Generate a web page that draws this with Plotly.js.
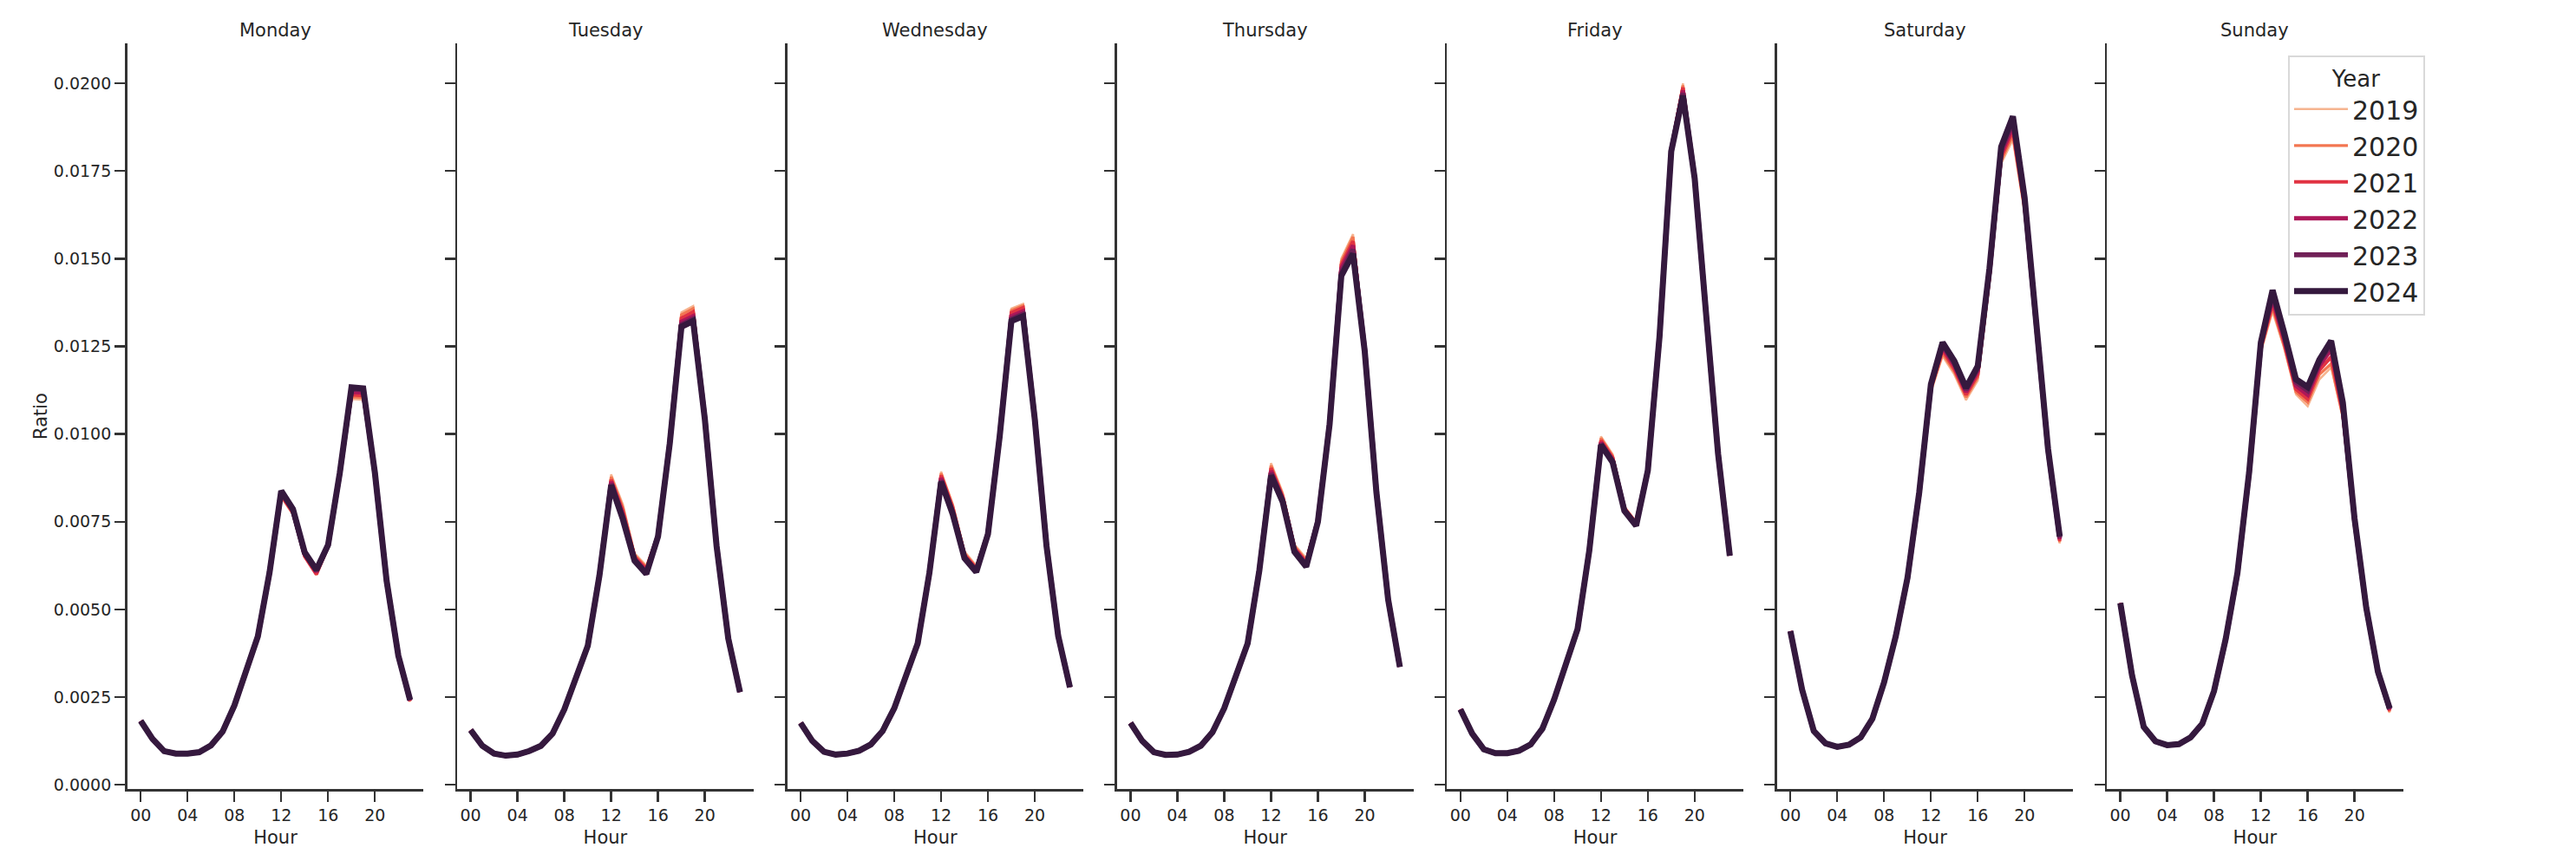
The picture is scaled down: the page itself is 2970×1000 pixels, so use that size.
<!DOCTYPE html>
<html>
<head>
<meta charset="utf-8">
<script src="https://cdn.plot.ly/plotly-3.0.1.min.js"></script>
<style>
  html, body { margin: 0; padding: 0; background: #fff; }
  #chart { width: 2970px; height: 1000px; }
</style>
</head>
<body>
<div id="chart"></div>
<script>
const hours = [0,1,2,3,4,5,6,7,8,9,10,11,12,13,14,15,16,17,18,19,20,21,22,23];
const hourTicks = [0, 4, 8, 12, 16, 20];
const hourLabels = ['00', '04', '08', '12', '16', '20'];
const ratioTicks = [0, 0.0025, 0.005, 0.0075, 0.01, 0.0125, 0.015, 0.0175, 0.02];
const days = ['Monday', 'Tuesday', 'Wednesday', 'Thursday', 'Friday', 'Saturday', 'Sunday'];
const years = ['2019', '2020', '2021', '2022', '2023', '2024'];
const yearColors = ['#f6b48f', '#f37651', '#e13342', '#ad1759', '#701f57', '#35193e'];
const yearWidths = [2.5, 3.3, 4.1, 4.9, 5.8, 7];

// rows: 2019 .. 2024, columns: hour 0 .. 23
const monday = [
  [.00182,.00131,.00096,.00089,.00089,.00093,.00112,.00152,.00226,.00325,.00423,.00600,.00820,.00770,.00655,.00598,.00675,.00880,.01100,.01098,.00880,.00578,.00366,.00236],
  [.00182,.00131,.00096,.00089,.00089,.00093,.00112,.00152,.00226,.00325,.00423,.00602,.00824,.00774,.00650,.00602,.00678,.00884,.01106,.01104,.00884,.00579,.00367,.00238],
  [.00182,.00131,.00096,.00089,.00089,.00093,.00112,.00152,.00226,.00325,.00423,.00603,.00826,.00776,.00652,.00600,.00680,.00885,.01112,.01110,.00885,.00580,.00367,.00239],
  [.00182,.00131,.00096,.00089,.00089,.00093,.00112,.00152,.00226,.00325,.00423,.00604,.00832,.00780,.00658,.00607,.00682,.00887,.01120,.01118,.00887,.00580,.00368,.00240],
  [.00182,.00131,.00096,.00089,.00089,.00093,.00112,.00152,.00226,.00325,.00423,.00605,.00836,.00783,.00660,.00610,.00683,.00888,.01128,.01126,.00888,.00581,.00368,.00241],
  [.00182,.00131,.00096,.00089,.00089,.00093,.00112,.00152,.00226,.00325,.00423,.00605,.00838,.00786,.00663,.00613,.00684,.00889,.01133,.01130,.00889,.00581,.00368,.00242]
];
const tuesday = [
  [.00156,.00111,.00089,.00083,.00086,.00096,.00111,.00146,.00215,.00303,.00398,.00605,.00885,.00799,.00660,.00625,.00718,.00985,.01347,.01365,.01055,.00688,.00420,.00266],
  [.00156,.00111,.00089,.00083,.00086,.00096,.00111,.00146,.00215,.00303,.00398,.00603,.00878,.00790,.00655,.00620,.00715,.00982,.01340,.01358,.01050,.00686,.00419,.00265],
  [.00156,.00111,.00089,.00083,.00086,.00096,.00111,.00146,.00215,.00303,.00397,.00601,.00870,.00780,.00650,.00615,.00713,.00979,.01330,.01348,.01048,.00684,.00418,.00265],
  [.00156,.00111,.00089,.00083,.00086,.00096,.00111,.00146,.00215,.00303,.00397,.00599,.00864,.00770,.00645,.00608,.00711,.00976,.01320,.01336,.01046,.00683,.00418,.00264],
  [.00156,.00111,.00089,.00083,.00086,.00096,.00111,.00146,.00215,.00303,.00396,.00598,.00858,.00762,.00641,.00604,.00709,.00974,.01312,.01328,.01044,.00682,.00417,.00264],
  [.00156,.00111,.00089,.00083,.00086,.00096,.00111,.00146,.00215,.00303,.00396,.00597,.00854,.00757,.00639,.00601,.00708,.00972,.01306,.01322,.01042,.00681,.00417,.00264]
];
const wednesday = [
  [.00176,.00125,.00094,.00086,.00089,.00097,.00115,.00153,.00218,.00308,.00405,.00612,.00893,.00800,.00665,.00625,.00725,.01003,.01358,.01371,.01055,.00688,.00427,.00280],
  [.00176,.00125,.00094,.00086,.00089,.00097,.00115,.00153,.00218,.00308,.00405,.00610,.00888,.00795,.00660,.00620,.00722,.01000,.01352,.01366,.01052,.00686,.00426,.00279],
  [.00176,.00125,.00094,.00086,.00089,.00097,.00115,.00153,.00218,.00308,.00404,.00608,.00882,.00788,.00656,.00617,.00720,.00998,.01346,.01360,.01049,.00685,.00426,.00279],
  [.00176,.00125,.00094,.00086,.00089,.00097,.00115,.00153,.00218,.00308,.00404,.00606,.00875,.00780,.00651,.00612,.00718,.00996,.01336,.01350,.01046,.00683,.00425,.00278],
  [.00176,.00125,.00094,.00086,.00089,.00097,.00115,.00153,.00218,.00308,.00403,.00605,.00868,.00775,.00648,.00609,.00716,.00994,.01328,.01342,.01044,.00682,.00424,.00278],
  [.00176,.00125,.00094,.00086,.00089,.00097,.00115,.00153,.00218,.00308,.00403,.00604,.00864,.00771,.00646,.00607,.00715,.00993,.01322,.01336,.01042,.00681,.00424,.00278]
];
const thursday = [
  [.00176,.00125,.00093,.00085,.00086,.00094,.00111,.00150,.00218,.00306,.00405,.00620,.00917,.00833,.00685,.00646,.00760,.01040,.01500,.01570,.01255,.00840,.00532,.00338],
  [.00176,.00125,.00093,.00085,.00086,.00094,.00111,.00150,.00218,.00306,.00405,.00618,.00910,.00826,.00680,.00640,.00758,.01037,.01492,.01562,.01250,.00838,.00531,.00338],
  [.00176,.00125,.00093,.00085,.00086,.00094,.00111,.00150,.00218,.00306,.00404,.00616,.00903,.00820,.00676,.00635,.00756,.01035,.01482,.01550,.01246,.00837,.00530,.00337],
  [.00176,.00125,.00093,.00085,.00086,.00094,.00111,.00150,.00218,.00306,.00404,.00614,.00895,.00815,.00671,.00630,.00754,.01032,.01472,.01538,.01242,.00835,.00529,.00337],
  [.00176,.00125,.00093,.00085,.00086,.00094,.00111,.00150,.00218,.00306,.00403,.00612,.00888,.00810,.00667,.00626,.00752,.01030,.01460,.01526,.01239,.00834,.00528,.00336],
  [.00176,.00125,.00093,.00085,.00086,.00094,.00111,.00150,.00218,.00306,.00403,.00611,.00882,.00806,.00664,.00622,.00750,.01028,.01451,.01514,.01236,.00833,.00528,.00336]
];
const friday = [
  [.00215,.00146,.00101,.00090,.00090,.00097,.00115,.00160,.00243,.00344,.00446,.00672,.00993,.00942,.00794,.00750,.00900,.01285,.01820,.02000,.01735,.01336,.00945,.00654],
  [.00215,.00146,.00101,.00090,.00090,.00097,.00115,.00160,.00243,.00344,.00446,.00671,.00988,.00937,.00790,.00748,.00899,.01283,.01816,.01994,.01734,.01335,.00945,.00654],
  [.00215,.00146,.00101,.00090,.00090,.00097,.00115,.00160,.00243,.00344,.00445,.00670,.00982,.00932,.00788,.00746,.00898,.01282,.01813,.01988,.01732,.01335,.00944,.00653],
  [.00215,.00146,.00101,.00090,.00090,.00097,.00115,.00160,.00243,.00344,.00445,.00669,.00976,.00926,.00785,.00743,.00897,.01280,.01810,.01980,.01731,.01334,.00944,.00653],
  [.00215,.00146,.00101,.00090,.00090,.00097,.00115,.00160,.00243,.00344,.00444,.00668,.00972,.00922,.00783,.00741,.00897,.01279,.01808,.01972,.01730,.01333,.00944,.00653],
  [.00215,.00146,.00101,.00090,.00090,.00097,.00115,.00160,.00243,.00344,.00444,.00667,.00969,.00919,.00781,.00739,.00896,.01278,.01806,.01965,.01729,.01333,.00944,.00653]
];
const saturday = [
  [.00438,.00271,.00153,.00116,.00106,.00112,.00133,.00186,.00290,.00420,.00584,.00820,.01120,.01222,.01170,.01097,.01153,.01430,.01771,.01840,.01630,.01280,.00940,.00688],
  [.00438,.00271,.00153,.00117,.00107,.00113,.00134,.00187,.00291,.00421,.00586,.00824,.01125,.01230,.01178,.01105,.01162,.01440,.01780,.01852,.01640,.01287,.00945,.00692],
  [.00438,.00271,.00153,.00117,.00107,.00113,.00134,.00187,.00291,.00422,.00587,.00827,.01132,.01240,.01186,.01112,.01170,.01450,.01790,.01865,.01650,.01293,.00949,.00695],
  [.00438,.00271,.00153,.00118,.00108,.00114,.00135,.00188,.00292,.00423,.00588,.00829,.01136,.01248,.01195,.01120,.01180,.01460,.01800,.01878,.01660,.01298,.00952,.00700],
  [.00438,.00271,.00153,.00118,.00108,.00114,.00135,.00188,.00292,.00424,.00589,.00831,.01140,.01255,.01202,.01126,.01188,.01466,.01810,.01892,.01668,.01302,.00955,.00704],
  [.00438,.00271,.00153,.00118,.00108,.00114,.00135,.00188,.00292,.00424,.00590,.00833,.01142,.01261,.01208,.01132,.01194,.01472,.01819,.01906,.01674,.01306,.00958,.00708]
];
const sunday = [
  [.00518,.00310,.00163,.00122,.00111,.00114,.00133,.00172,.00264,.00410,.00596,.00880,.01234,.01349,.01244,.01113,.01079,.01156,.01190,.01046,.00740,.00498,.00318,.00205],
  [.00518,.00311,.00164,.00122,.00112,.00115,.00134,.00173,.00265,.00412,.00598,.00883,.01240,.01360,.01250,.01120,.01090,.01170,.01200,.01050,.00745,.00500,.00319,.00208],
  [.00518,.00311,.00164,.00123,.00112,.00115,.00134,.00173,.00266,.00413,.00600,.00885,.01246,.01372,.01260,.01128,.01100,.01182,.01220,.01060,.00749,.00501,.00320,.00211],
  [.00518,.00312,.00165,.00123,.00113,.00116,.00135,.00174,.00266,.00414,.00601,.00887,.01252,.01386,.01270,.01138,.01112,.01195,.01242,.01070,.00752,.00503,.00321,.00214],
  [.00518,.00312,.00165,.00124,.00113,.00116,.00135,.00174,.00267,.00415,.00602,.00889,.01257,.01398,.01280,.01148,.01124,.01205,.01256,.01080,.00756,.00504,.00322,.00216],
  [.00518,.00312,.00165,.00124,.00113,.00116,.00135,.00174,.00267,.00416,.00604,.00891,.01261,.01410,.01288,.01156,.01134,.01212,.01266,.01090,.00759,.00505,.00322,.00218]
];
const dayData = [monday, tuesday, wednesday, thursday, friday, saturday, sunday];

const W = 2970;
const font = 'DejaVu Sans, sans-serif';
const ink = '#262626';
const axColor = '#333333';

let traces = [];
let layout = {
  width: W,
  height: 1000,
  margin: { l: 0, r: 0, t: 0, b: 0 },
  paper_bgcolor: '#fff',
  plot_bgcolor: '#fff',
  font: { family: font, color: ink, size: 19 },
  showlegend: true,
  legend: {
    x: 2638 / W, y: 0.936, xanchor: 'left', yanchor: 'top',
    bgcolor: 'rgba(255,255,255,0.8)',
    bordercolor: '#d9d9d9', borderwidth: 2,
    font: { family: font, size: 30, color: ink },
    title: { text: 'Year', side: 'top center', font: { family: font, size: 26, color: ink } },
    itemwidth: 62,
    traceorder: 'normal'
  },
  annotations: []
};

days.forEach((day, d) => {
  const n = d === 0 ? '' : String(d + 1);
  const left = 146.7 + 380.4 * d;
  const right = left + 341.6;

  dayData[d].forEach((vals, k) => {
    traces.push({
      x: hours,
      y: vals,
      xaxis: 'x' + n,
      yaxis: 'y' + n,
      type: 'scatter',
      mode: 'lines',
      name: years[k],
      legendgroup: years[k],
      showlegend: d === 0,
      line: { color: yearColors[k], width: yearWidths[k] },
      hoverinfo: 'skip'
    });
  });

  layout['xaxis' + n] = {
    domain: [left / W, right / W],
    anchor: 'y' + n,
    range: [-1.15, 24.15],
    tickvals: hourTicks,
    ticktext: hourLabels,
    ticks: 'outside', ticklen: 12, tickwidth: 2.4, tickcolor: axColor,
    showline: true, linecolor: axColor, linewidth: 2.6,
    showgrid: false, zeroline: false,
    tickfont: { family: font, size: 19, color: ink },
    title: { text: 'Hour', font: { family: font, size: 21, color: ink }, standoff: 8 }
  };
  layout['yaxis' + n] = {
    domain: [0.09, 0.95],
    anchor: 'x' + n,
    range: [-0.00012, 0.02114],
    tickvals: ratioTicks,
    tickformat: '.4f',
    showticklabels: d === 0,
    ticks: 'outside', ticklen: 12, tickwidth: 2.4, tickcolor: axColor,
    showline: true, linecolor: axColor, linewidth: 2.6,
    showgrid: false, zeroline: false,
    tickfont: { family: font, size: 19, color: ink },
    title: d === 0 ? { text: 'Ratio', font: { family: font, size: 21, color: ink }, standoff: 2 } : { text: '' }
  };

  layout.annotations.push({
    text: day,
    xref: 'paper', yref: 'paper',
    x: (left + right) / 2 / W, y: 0.965,
    xanchor: 'center', yanchor: 'middle',
    showarrow: false,
    font: { family: font, size: 21, color: ink }
  });
});

Plotly.newPlot('chart', traces, layout, { displayModeBar: false, staticPlot: true });
</script>
</body>
</html>
